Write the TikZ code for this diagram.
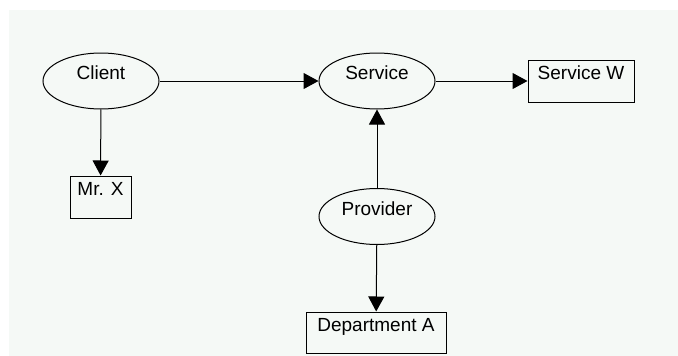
\documentclass[tikz,border=0pt]{standalone}
\usepackage{fontspec}
\setmainfont{Liberation Sans}
\usetikzlibrary{shapes.geometric,arrows.meta}
\definecolor{panel}{RGB}{245,249,246}
\begin{document}
\begin{tikzpicture}[x=1pt,y=-1pt]
			\tikzstyle{every node}+=[inner sep=0pt, font=\fontsize{19}{22}\selectfont, text height=14pt, text depth=16.4pt]
			\tikzstyle{role}=[draw=black, line width=1pt, ellipse, minimum width=116pt, minimum height=56pt]
			\tikzstyle{party}=[draw=black, line width=1pt, rectangle, minimum height=42pt]
			\tikzstyle{link}=[draw=black, line width=1pt, -{Triangle[length=15pt,width=16pt]}]
			\useasboundingbox (0,0) rectangle (678,356);
			\fill [panel] (9,10) rectangle (678,356);
			\node [role] (client) at (101,81) {Client};
			\node [role] (service) at (377,81) {Service};
			\node [role] (provider) at (377,216.5) {Provider};
			\node [party, minimum width=106pt] (servicew) at (581,81) {Service W};
			\node [party, minimum width=61pt] (mrx) at (100.5,197) {Mr. X};
			\node [party, minimum width=140pt, minimum height=41pt] (depta) at (376,332.5) {Department A};
			\draw [link] (client) -- (service);
			\draw [link] (service) -- (servicew);
			\draw [link] (client) -- (mrx);
			\draw [link] (provider) -- (service);
			\draw [link] (provider) -- (depta);
		\end{tikzpicture}
\end{document}
